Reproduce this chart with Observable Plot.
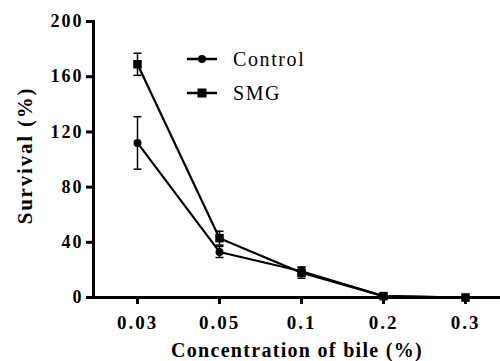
<!DOCTYPE html>
<html><head><meta charset="utf-8">
<script src="https://cdn.jsdelivr.net/npm/d3@7"></script>
<script src="https://cdn.jsdelivr.net/npm/@observablehq/plot@0.6"></script>
<style>
body{margin:0;background:#fff;font-family:'Liberation Serif';}
#wrap{position:relative;width:500px;height:361px;}
#legend{position:absolute;left:186px;top:42px;font-family:'Liberation Serif';font-size:20px;letter-spacing:1.6px;}
.row{display:flex;align-items:center;height:34px;}
.row svg{margin-right:15px;}
</style>
</head><body>
<div id="wrap"><div id="legend"></div></div>
<script>
const concentrations = ["0.03","0.05","0.1","0.2","0.3"];
const controlMean = [112, 33, 19, 1, 0];
const controlErr  = [19, 4, 3, 1, 0.5];
const smgMean     = [169, 43, 18, 1, 0];
const smgErr      = [8, 5, 4, 1, 0.5];
const seriesNames = ["Control","SMG"];
const yTicks = [0,40,80,120,160,200];
const yTitle = "Survival (%)";
const xTitle = "Concentration of bile (%)";

const data = [];
concentrations.forEach((c,i)=>{
  data.push({c, s:"Control", m:controlMean[i], e:controlErr[i]});
  data.push({c, s:"SMG", m:smgMean[i], e:smgErr[i]});
});
const cap = {draw(ctx,size){const w=Math.sqrt(size)/2; ctx.moveTo(-w,0); ctx.lineTo(w,0);}};
const F = "Liberation Serif";

const chart = Plot.plot({
  width: 500, height: 361,
  marginLeft: 93, marginRight: 0, marginTop: 21, marginBottom: 64,
  style: {fontFamily: F, background: "#fff", color: "#000"},
  x: {type: "point", domain: concentrations, range: [136, 466], padding: 0},
  y: {domain: [0, 200]},
  marks: [
    Plot.axisY({ticks: yTicks, tickSize: 7, tickPadding: 3, fontSize: 18, fontWeight: "bold", fontFamily: F, strokeWidth: 3, label: null}),
    Plot.axisX({tickSize: 7, tickPadding: 11, fontSize: 19, fontWeight: "bold", fontFamily: F, strokeWidth: 3, label: null}),
    Plot.text([yTitle], {frameAnchor: "left", textAnchor: "middle", lineAnchor: "middle", dx: -68, dy: -4, rotate: -90, fontSize: 21, fontWeight: "bold", fontFamily: F}),
    Plot.text([xTitle], {frameAnchor: "bottom", lineAnchor: "middle", dy: 53, fontSize: 20, fontWeight: "bold", fontFamily: F}),
    Plot.ruleY([0], {strokeWidth: 3}),
    Plot.frame({anchor: "left", strokeWidth: 3}),
    Plot.ruleX(data, {x: "c", y1: d=>d.m-d.e, y2: d=>d.m+d.e, strokeWidth: 1.5}),
    Plot.dot(data, {x: "c", y: d=>d.m+d.e, symbol: cap, r: 4.5, stroke: "black", strokeWidth: 1.5}),
    Plot.dot(data, {x: "c", y: d=>d.m-d.e, symbol: cap, r: 4.5, stroke: "black", strokeWidth: 1.5}),
    Plot.line(data, {x: "c", y: "m", z: "s", stroke: "black", strokeWidth: 2.2}),
    Plot.dot(data.filter(d=>d.s==="Control"), {x: "c", y: "m", symbol: "circle", r: 4, fill: "black"}),
    Plot.dot(data.filter(d=>d.s==="SMG"), {x: "c", y: "m", symbol: "square", r: 4.8, fill: "black"})
  ]
});
const sel = d3.select(chart);
sel.selectAll("g[aria-label='y-axis tick label'] text").style("letter-spacing", "2px");
sel.selectAll("g[aria-label='x-axis tick label'] text").style("letter-spacing", "2px");
sel.selectAll("text").filter(function(){return this.textContent === yTitle;}).style("letter-spacing", "1.8px");
sel.selectAll("text").filter(function(){return this.textContent === xTitle;}).style("letter-spacing", "1.3px");
document.getElementById("wrap").prepend(chart);

const lg = document.getElementById("legend");
seriesNames.forEach((n,i)=>{
  const row = document.createElement("div"); row.className="row";
  const mk = i===0 ? '<circle cx="16" cy="8" r="4" fill="#000"/>' : '<rect x="11.5" y="3.5" width="9" height="9" fill="#000"/>';
  row.innerHTML = `<svg width="32" height="16"><line x1="1" x2="31" y1="8" y2="8" stroke="#000" stroke-width="2.5"/>${mk}</svg><span>${n}</span>`;
  lg.appendChild(row);
});
</script>
</body></html>
